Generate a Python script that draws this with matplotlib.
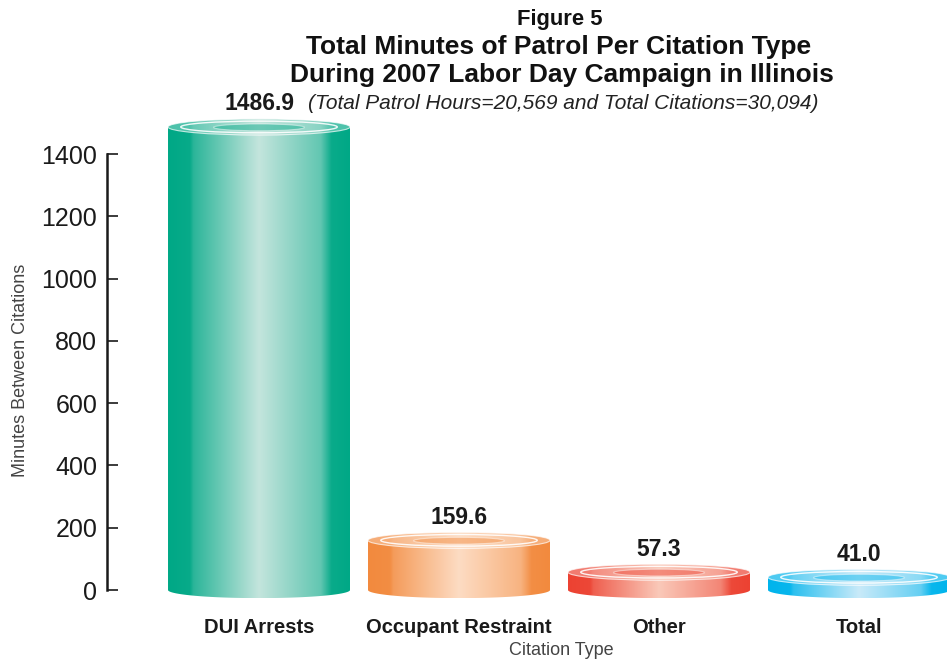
import numpy as np
import matplotlib.pyplot as plt
from matplotlib.patches import Ellipse, PathPatch
from matplotlib.path import Path
from matplotlib.colors import to_rgb

plt.rcParams['font.family'] = ['Liberation Sans', 'DejaVu Sans']

# chart data
categories = ['DUI Arrests', 'Occupant Restraint', 'Other', 'Total']
minutes = [1486.9, 159.6, 57.3, 41.0]
value_text = ['1486.9', '159.6', '57.3', '41.0']
yticks = [0, 200, 400, 600, 800, 1000, 1200, 1400]

# cylinder colours: dark edge, light highlight
edge_cols = ['#00a886', '#f28a3e', '#ec4232', '#00b4ec']
light_cols = ['#c4e5dd', '#fddcc3', '#fac9b9', '#c9eaf9']

BAR_W = 0.91   # cylinder width in category units
RY = 26        # half-height of the end ellipses in data units


def shade_profile(n=300):
    t = np.linspace(0, 1, n)
    return np.interp(t, [0, 0.12, 0.14, 0.5, 0.84, 0.9, 1.0],
                     [0.0, 0.04, 0.22, 1.0, 0.5, 0.05, 0.0])


def gradient(c0, c1, lift=0.0):
    f = shade_profile()
    a = np.array(to_rgb(c0))
    b = np.array(to_rgb(c1))
    if lift:
        a = a + (1 - a) * lift
    img = a[None, :] + f[:, None] * (b - a)[None, :]
    return img[None, :, :]


def cylinder(ax, xc, h, c0, c1):
    x0, x1 = xc - BAR_W / 2, xc + BAR_W / 2
    th = np.linspace(np.pi, 2 * np.pi, 60)
    verts = [(x0, h), (x0, 0)]
    verts += list(zip(xc + BAR_W / 2 * np.cos(th), RY * np.sin(th)))
    verts += [(x1, h), (x0, h)]
    codes = [Path.MOVETO] + [Path.LINETO] * (len(verts) - 2) + [Path.CLOSEPOLY]
    body = PathPatch(Path(verts, codes), facecolor='none', edgecolor='none')
    ax.add_patch(body)
    im = ax.imshow(gradient(c0, c1), extent=(x0, x1, -RY, h + RY),
                   aspect='auto', interpolation='bilinear', zorder=2)
    im.set_clip_path(body)

    # top face with rim rings
    top = Ellipse((xc, h), BAR_W, 2 * RY, facecolor='none', edgecolor='none')
    ax.add_patch(top)
    im2 = ax.imshow(gradient(c0, c1, lift=0.3), extent=(x0, x1, h - RY, h + RY),
                    aspect='auto', interpolation='bilinear', zorder=3)
    im2.set_clip_path(top)
    ax.add_patch(Ellipse((xc, h), BAR_W, 2 * RY, facecolor='none',
                         edgecolor='white', lw=0.8, alpha=0.7, zorder=4))
    ax.add_patch(Ellipse((xc, h), BAR_W * 0.86, 2 * RY * 0.72, facecolor='none',
                         edgecolor='white', lw=1.0, alpha=0.9, zorder=4))
    ax.add_patch(Ellipse((xc, h - RY * 0.05), BAR_W * 0.5, 2 * RY * 0.42,
                         facecolor=c0, edgecolor='white', lw=0.8, alpha=0.45, zorder=4))


fig = plt.figure(figsize=(9.47, 6.62), dpi=100)
ax = fig.add_axes([0.113, 0.0899, 0.887, 0.7527])

x = np.arange(len(categories))
for xi, v, c0, c1 in zip(x, minutes, edge_cols, light_cols):
    cylinder(ax, xi, v, c0, c1)

for xi, v, s in zip(x, minutes, value_text):
    ax.annotate(s, (xi, v + RY), xytext=(0, 2.5), textcoords='offset points',
                ha='center', va='bottom', fontsize=16.5, fontweight='bold', color='#1a1a1a')

ax.set_xlim(-0.76, 3.44)
ax.set_ylim(-40, 1560)
ax.set_yticks(yticks)
ax.set_yticklabels([str(t) for t in yticks])
ax.set_xticks(x)
ax.set_xticklabels(categories, fontsize=14.5, fontweight='bold', color='#1a1a1a')
ax.tick_params(axis='x', length=0, pad=11)
ax.tick_params(axis='y', direction='in', length=8, width=1.2, pad=7,
               labelsize=18, colors='#1a1a1a')
for side in ['top', 'right', 'bottom']:
    ax.spines[side].set_visible(False)
ax.spines['left'].set_bounds(0, 1400)
ax.spines['left'].set_linewidth(1.8)
ax.spines['left'].set_color('#1a1a1a')
ax.patch.set_alpha(0)

fig.text(0.022, 0.441, 'Minutes Between Citations', rotation=90, ha='center', va='center',
         fontsize=13, color='#444444')
fig.text(0.593, 0.018, 'Citation Type', ha='center', va='center', fontsize=13, color='#444444')

fig.text(0.591, 0.971, 'Figure 5', ha='center', va='center', fontsize=15.8, fontweight='bold',
         color='#111111')
fig.text(0.590, 0.929, 'Total Minutes of Patrol Per Citation Type', ha='center', va='center',
         fontsize=19, fontweight='bold', color='#111111')
fig.text(0.593, 0.887, 'During 2007 Labor Day Campaign in Illinois', ha='center', va='center',
         fontsize=19, fontweight='bold', color='#111111')
fig.text(0.325, 0.843, '(Total Patrol Hours=20,569 and Total Citations=30,094)',
         ha='left', va='center', fontsize=15, style='italic', color='#222222')

fig.savefig('out.png', dpi=100)
